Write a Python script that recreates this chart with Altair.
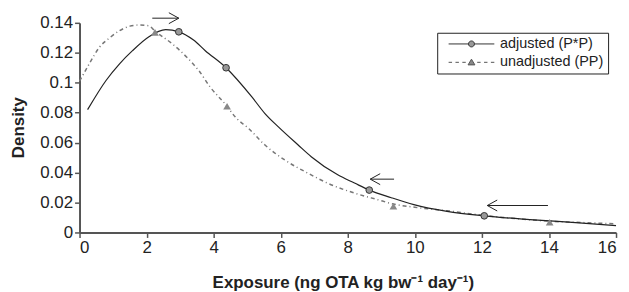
import altair as alt
import pandas as pd

# ---- data ----
adj_x = [0.24, 0.79, 1.2, 1.58, 2.07, 2.57, 2.96, 3.4, 3.75, 4.37, 5.14, 5.53, 5.93,
         6.52, 6.91, 7.7, 8.2, 8.64, 9.3, 9.97, 10.96, 12.07, 13.43, 14.9, 16.0]
adj_y = [0.082, 0.1015, 0.1128, 0.1214, 0.1307, 0.1354, 0.134, 0.1285, 0.1214, 0.110,
         0.0905, 0.0794, 0.0705, 0.0584, 0.0506, 0.0385, 0.033, 0.0283, 0.0232, 0.0186,
         0.0141, 0.0111, 0.0086, 0.0064, 0.0046]

unadj_x = [0.0, 0.3, 0.59, 0.9, 1.19, 1.5, 1.75, 2.07, 2.25, 2.77, 3.2, 3.56, 3.9, 4.4,
           4.64, 5.04, 5.53, 6.12, 6.81, 7.5, 8.2, 8.89, 9.36, 10.0, 10.96, 12.0, 13.0,
           14.02, 15.0, 16.0]
unadj_y = [0.101, 0.113, 0.1236, 0.130, 0.1347, 0.1378, 0.1385, 0.138, 0.1345, 0.1259,
           0.117, 0.108, 0.097, 0.0843, 0.0772, 0.0695, 0.0584, 0.0484, 0.0396, 0.0319,
           0.0263, 0.0219, 0.019, 0.0168, 0.0145, 0.0115, 0.0093, 0.0075, 0.0066, 0.0058]

adj_mark_x = [2.96, 4.37, 8.64, 12.07]
adj_mark_y = [0.134, 0.110, 0.0283, 0.0111]
unadj_mark_x = [2.25, 4.4, 9.36, 14.02]
unadj_mark_y = [0.1336, 0.0843, 0.0175, 0.0068]

arrow_x0 = [2.17, 9.38, 13.97]
arrow_x1 = [2.96, 8.67, 12.16]
arrow_y = [0.1431, 0.0356, 0.0180]
arrow_angle = [0, 180, 180]

series_names = ["adjusted (P*P)", "unadjusted (PP)"]
series_fill = ["#999999", "#888888"]
series_stroke = ["#333333", "#555555"]
x_ticks = [0, 2, 4, 6, 8, 10, 12, 14, 16]
y_ticks = [0, 0.02, 0.04, 0.06, 0.08, 0.1, 0.12, 0.14]

FONT = "Liberation Sans"

adj_df = pd.DataFrame({"x": adj_x, "y": adj_y})
unadj_df = pd.DataFrame({"x": unadj_x, "y": unadj_y})
adj_m = pd.DataFrame({"x": adj_mark_x, "y": adj_mark_y, "series": series_names[0]})
unadj_m = pd.DataFrame({"x": unadj_mark_x, "y": unadj_mark_y, "series": series_names[1]})
marks_df = pd.concat([adj_m, unadj_m], ignore_index=True)
arrows_df = pd.DataFrame({"x": arrow_x0, "x1": arrow_x1, "y": arrow_y, "angle": arrow_angle})

xs = alt.Scale(domain=[0, 16], nice=False)
ys = alt.Scale(domain=[0, 0.14], nice=False)

x_axis = alt.Axis(title="Exposure (ng OTA kg bw\u207b\u00b9 day\u207b\u00b9)", values=x_ticks,
                  titleX=265, titleY=50, titleBaseline="middle", labelOverlap=False)
y_axis = alt.Axis(title="Density", values=y_ticks, format=".2~f", labelOverlap=False,
                  titleX=-61, titleY=105, titleBaseline="middle")


def X(field):
    return alt.X(field, type="quantitative", scale=xs, axis=x_axis)


Y = alt.Y("y:Q", scale=ys, axis=y_axis)

line_adj = alt.Chart(adj_df).mark_line(color="#222", strokeWidth=1.2, interpolate="monotone").encode(x=X("x"), y=Y)
line_unadj = alt.Chart(unadj_df).mark_line(color="#777", strokeWidth=1.5, strokeDash=[4, 3, 1, 3],
                                           interpolate="monotone").encode(x=X("x"), y=Y)

pts_adj = alt.Chart(adj_m).mark_point(shape="circle", filled=True, fill="#999", stroke="#333",
                                      strokeWidth=1, size=45, opacity=1).encode(x=X("x"), y=Y)
pts_unadj = alt.Chart(unadj_m).mark_point(shape="triangle-up", filled=True, fill="#888",
                                          strokeWidth=0, size=60, opacity=1).encode(x=X("x"), y=Y)

path_adj = ("M-4,0H-0.52M0.52,0H4M0.52,0A0.52,0.52,0,1,1,-0.52,0"
            "A0.52,0.52,0,1,1,0.52,0Z")
path_unadj = ("M-4,0H-3.4M-2.8,0H-2.2M-1.6,0H-1.0M1.0,0H1.6M2.2,0H2.8M3.4,0H4"
              "M-0.6,0.45L0.6,0.45L0,-0.55Z")

leg = alt.Legend(
    title=None, orient="none", legendX=360, legendY=10,
    strokeColor="#222", fillColor="white", padding=4,
    symbolSize=132.25, symbolOffset=23.25, labelOffset=21.5,
    symbolStrokeWidth=1, symbolOpacity=1, rowPadding=3.5,
    labelFont=FONT, labelFontSize=14.5, labelColor="#222", labelLimit=300)

legend_layer = alt.Chart(marks_df).mark_point(filled=True, strokeWidth=1, opacity=0).encode(
    x=X("x"), y=Y,
    shape=alt.Shape("series:N",
                    scale=alt.Scale(domain=series_names, range=[path_adj, path_unadj]),
                    legend=leg),
    fill=alt.Fill("series:N", scale=alt.Scale(domain=series_names, range=series_fill),
                  legend=leg),
    stroke=alt.Stroke("series:N", scale=alt.Scale(domain=series_names, range=series_stroke),
                      legend=leg),
)

arrow_lines = alt.Chart(arrows_df).mark_rule(color="#222", strokeWidth=1).encode(
    x=X("x"), x2="x1:Q", y=Y)
arrow_heads = alt.Chart(arrows_df).mark_point(
    shape="M-1,-0.55L0,0L-1,0.55", size=400, filled=False, stroke="#222",
    strokeWidth=1, opacity=1).encode(
    x=X("x1"), y=Y, angle=alt.Angle("angle:Q", scale=None))

chart = alt.layer(
    line_unadj, line_adj, pts_unadj, pts_adj, legend_layer, arrow_lines, arrow_heads
).properties(
    width=540, height=211,
    autosize=alt.AutoSizeParams(type="none"),
    padding={"left": 72, "top": 14, "right": 5, "bottom": 58},
).configure_view(stroke=None).configure_axis(
    grid=False, domainColor="#555", domainWidth=2, tickColor="#555", tickWidth=1.5,
    tickSize=5, labelFont=FONT, labelFontSize=17, labelColor="#222", labelPadding=2,
    labelOverlap=False,
    titleFont=FONT, titleFontSize=17, titleFontWeight="bold", titleColor="#222"
)

chart.save("out.html", embed_options={"renderer": "svg", "actions": False})
